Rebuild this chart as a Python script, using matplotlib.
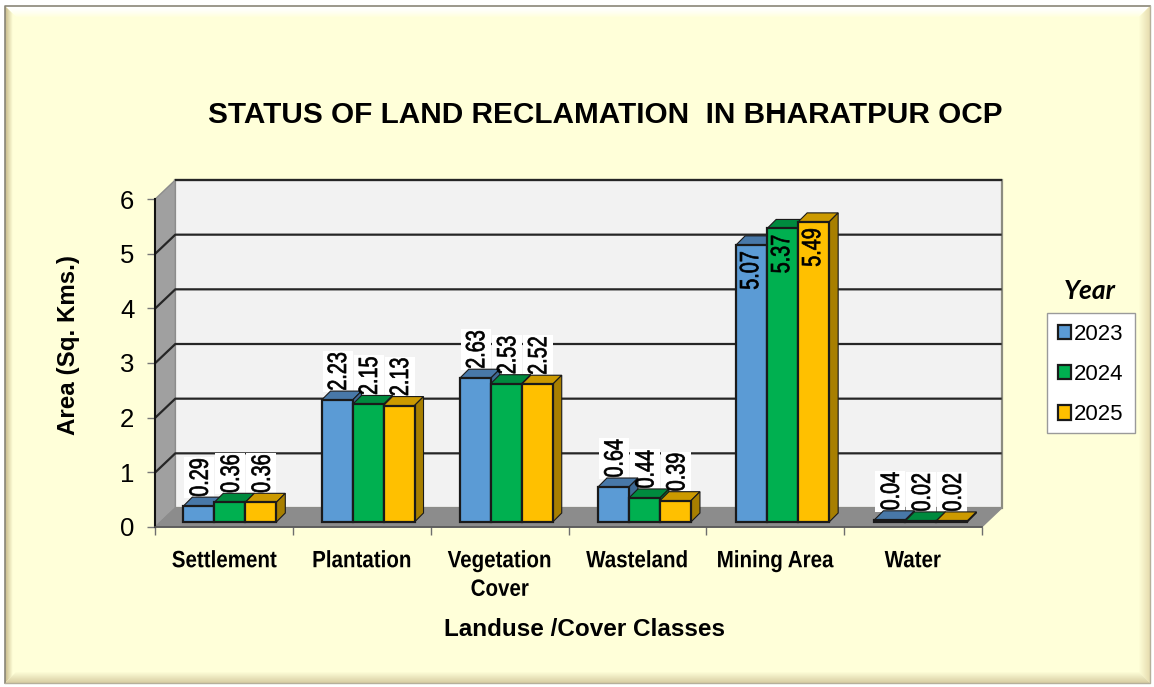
import numpy as np
import matplotlib
matplotlib.use("Agg")
import matplotlib.pyplot as plt
from matplotlib.patches import Polygon, Rectangle
from matplotlib.patheffects import AbstractPathEffect
from matplotlib.transforms import Affine2D
from matplotlib import font_manager as fm

categories = ["Settlement", "Plantation", "Vegetation\nCover", "Wasteland", "Mining Area", "Water"]
years = ["2023", "2024", "2025"]
values_2023 = [0.29, 2.23, 2.63, 0.64, 5.07, 0.04]
values_2024 = [0.36, 2.15, 2.53, 0.44, 5.37, 0.02]
values_2025 = [0.36, 2.13, 2.52, 0.39, 5.49, 0.02]
series = [values_2023, values_2024, values_2025]
y_ticks = [0, 1, 2, 3, 4, 5, 6]

front_cols = ["#5B9BD5", "#00B050", "#FFC000"]
top_cols = ["#4878A8", "#008A3E", "#CC9A00"]
side_cols = ["#3F6A95", "#006F32", "#A87F00"]
DARK = "#1A1A1A"
BG = "#FFFFD9"
W, H = 1154, 687
SANS = ["Liberation Sans"]


class Condense(AbstractPathEffect):
    """Draw real text narrower along its baseline, about its centre (no narrow font is installed)."""
    def __init__(self, factor, stroke=0.0):
        super().__init__()
        self.factor = factor
        self.stroke = stroke

    def draw_path(self, renderer, gc, tpath, affine, rgbFace=None):
        ext = tpath.get_extents()
        cx = 0.5 * (ext.x0 + ext.x1)
        squeeze = Affine2D().translate(-cx, 0).scale(self.factor, 1).translate(cx, 0)
        gc0 = renderer.new_gc()
        gc0.copy_properties(gc)
        if self.stroke:
            gc0.set_linewidth(self.stroke)
            gc0.set_foreground("black")
        renderer.draw_path(gc0, tpath, squeeze + affine, rgbFace)
        gc0.restore()


fig = plt.figure(figsize=(W / 100, H / 100), dpi=100, facecolor="white")

# bevelled frame, in pixels
bg = fig.add_axes([0, 0, 1, 1], zorder=0)
bg.set_xlim(0, W); bg.set_ylim(H, 0); bg.axis("off")
L, T, R, B = 5, 6, 1150, 683
bg.add_patch(Rectangle((L, T), R - L, B - T, fc=BG, ec="none"))
def mix(a, b, t):
    a, b = np.array(matplotlib.colors.to_rgb(a)), np.array(matplotlib.colors.to_rgb(b))
    return tuple(a + (b - a) * t)
band = 12
for i in range(band):
    t = i / (band - 1)
    a, c = i, i + 1
    bg.add_patch(Polygon([(L + a, T + a), (R - a, T + a), (R - c, T + c), (L + c, T + c)], fc=mix("#FFFFFF", BG, t ** 1.5), ec="none"))
    bg.add_patch(Polygon([(L + a, T + a), (L + c, T + c), (L + c, B - c), (L + a, B - a)], fc=mix("#C9BC8C", BG, min(1, t * 1.5)), ec="none"))
    bg.add_patch(Polygon([(R - a, T + a), (R - c, T + c), (R - c, B - c), (R - a, B - a)], fc=mix("#E6DDB0", BG, t), ec="none"))
    bg.add_patch(Polygon([(L + a, B - a), (R - a, B - a), (R - c, B - c), (L + c, B - c)], fc=mix("#D8CFA4", BG, t), ec="none"))
bg.plot([L, L, R], [B, T, T], color="#8A8678", lw=1.2)
bg.plot([L, R, R], [B, B, T], color="#B5B09A", lw=1.0)
# legend box
bg.add_patch(Rectangle((1046.5, 313), 88.5, 119.5, fc="white", ec="#9A9A9A", lw=1))

# axes aligned with the front plane of the 3-D chart
x0, x1, y0, y1 = 155.3, 981.7, 527, 199
ax = fig.add_axes([x0 / W, 1 - y0 / H, (x1 - x0) / W, (y0 - y1) / H], zorder=1)
ax.patch.set_visible(False)
n = len(categories)
ax.set_xlim(0, n); ax.set_ylim(0, 6)
px = n / (x1 - x0)        # data units per pixel, x
py = 6 / (y0 - y1)        # data units per pixel, y
depth_x, depth_y = 20 * px, 19 * py

# walls and floor
ax.add_patch(Polygon([(depth_x, depth_y), (n + depth_x, depth_y), (n + depth_x, 6 + depth_y), (depth_x, 6 + depth_y)],
                     fc="#F2F2F2", ec="#8C8C80", lw=1.6, clip_on=False, zorder=1))
ax.add_patch(Polygon([(0, 0), (depth_x, depth_y), (depth_x, 6 + depth_y), (0, 6)], fc="#A0A0A0", ec="#8C8C8C", lw=1, clip_on=False, zorder=1))
ax.add_patch(Polygon([(0, 0), (n, 0), (n + depth_x, depth_y), (depth_x, depth_y)], fc="#8C8C8C", ec="#8C8C8C", lw=1, clip_on=False, zorder=1))
for v in y_ticks[1:]:
    xs, ys = [depth_x, n + depth_x], [v + depth_y, v + depth_y]
    if v < max(y_ticks):
        xs, ys = [0] + xs, [v] + ys
    ax.plot(xs, ys, color="#262626", lw=1.6, clip_on=False, zorder=2, solid_capstyle="butt")

# bars
bw = 31 * px
base = 5 * py
bdx, bdy = 9 * px, 9 * py
lead = 28 * px
pitch = 1.0035
handles = []
for s, vals in enumerate(series):
    for c, v in enumerate(vals):
        l = c * pitch + lead + s * bw
        r = l + bw
        t = base + v
        z = 3 + c + s * 0.1
        ax.add_patch(Polygon([(l, t), (r, t), (r + bdx, t + bdy), (l + bdx, t + bdy)], fc=top_cols[s], ec=DARK, lw=0.8, clip_on=False, zorder=z))
        ax.add_patch(Polygon([(r, base), (r + bdx, base + bdy), (r + bdx, t + bdy), (r, t)], fc=side_cols[s], ec=DARK, lw=0.8, clip_on=False, zorder=z))
    bars = ax.bar([c * pitch + lead + s * bw for c in range(n)], vals, width=bw, bottom=base, align="edge",
                  color=front_cols[s], edgecolor=DARK, linewidth=1.6, clip_on=False, zorder=3 + n, label=years[s])
    handles.append(bars)

# data labels
box_w, box_h = 30 * px, 41 * py
label_fx = [Condense(0.75, stroke=0.5)]
for s, vals in enumerate(series):
    for c, v in enumerate(vals):
        lft = c * pitch + lead + s * bw
        xc = lft + 0.5 * bw
        t = base + v
        if v > 5:
            ax.text(xc - 0.5 * px, t, f"{v:.2f}", rotation=90, ha="center", va="top", family=SANS,
                    fontsize=19, color="black", zorder=20, clip_on=False, path_effects=label_fx)
        else:
            ax.add_patch(Rectangle((lft + 1 * px, t + 8 * py), box_w, box_h, fc="white", ec="none", clip_on=False, zorder=2.5))
            ax.text(xc + 2 * px, t + 3 * py, f"{v:.2f}", rotation=90, ha="center", va="bottom", family=SANS,
                    fontsize=19, color="black", zorder=20, clip_on=False, path_effects=label_fx)

# axis furniture
for sp in ("top", "right"):
    ax.spines[sp].set_visible(False)
ax.spines["left"].set_color("#111111"); ax.spines["left"].set_linewidth(1.5); ax.spines["left"].set_zorder(2.5)
ax.spines["bottom"].set_color("#555555"); ax.spines["bottom"].set_linewidth(1.2); ax.spines["bottom"].set_zorder(2.5)
ax.set_yticks(y_ticks)
ax.set_yticklabels([str(v) for v in y_ticks], family=SANS, fontsize=18.5)
ax.tick_params(axis="y", length=6, width=1, color="#777777", pad=9)
ax.set_xticks(np.arange(n + 1)); ax.set_xticklabels([])
ax.tick_params(axis="x", which="major", length=6, width=1, color="#6E6E6E")
ax.set_xticks(np.arange(n) + 0.5, minor=True)
cat_labels = ax.set_xticklabels(categories, minor=True, family=SANS, fontweight="bold", fontsize=17, linespacing=1.31)
for lab in cat_labels:
    lab.set_path_effects([Condense(0.87)])
ax.tick_params(axis="x", which="minor", length=0, pad=16)

# titles as real text placed in pixels
bg.text(605, 115, "STATUS OF LAND RECLAMATION  IN BHARATPUR OCP", family=SANS, fontweight="bold", fontsize=21.45, ha="center", va="center")
bg.text(69, 345, "Area (Sq. Kms.)", family=SANS, fontweight="bold", fontsize=17.4, rotation=90, ha="center", va="center")
bg.text(584.5, 630, "Landuse /Cover Classes", family=SANS, fontweight="bold", fontsize=17.5, ha="center", va="center")
bg.text(1090, 291, "Year", family=["Lato"], fontweight="bold", fontstyle="italic", fontsize=19, ha="center", va="center")

# legend
leg = ax.legend(handles=handles, labels=years, loc="upper left", bbox_to_anchor=(1046.5 / W, 1 - 313 / H), bbox_transform=fig.transFigure,
                frameon=False, prop=fm.FontProperties(family=SANS, size=16), handlelength=0.6, handleheight=0.6, handletextpad=0.13,
                labelspacing=0.86, borderaxespad=0, borderpad=0.5)
leg.set_zorder(30)

fig.savefig("out.png", dpi=100, facecolor="white")
